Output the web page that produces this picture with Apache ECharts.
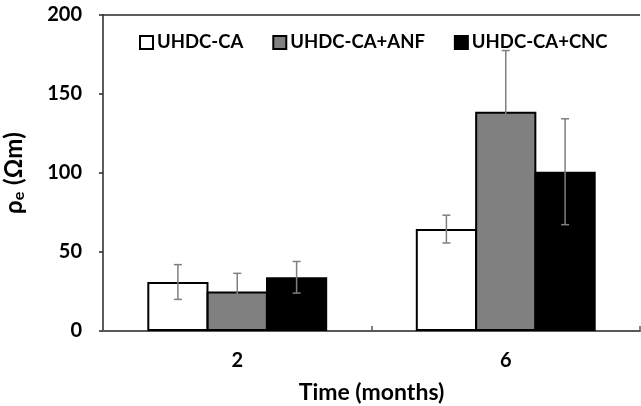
<!DOCTYPE html>
<html>
<head>
<meta charset="utf-8">
<script src="https://cdn.jsdelivr.net/npm/echarts@6/dist/echarts.min.js"></script>
<style>html,body{margin:0;padding:0;background:#fff}#c{width:641px;height:406px}</style>
</head>
<body>
<div id="c"></div>
<script>
const categories = ['2', '6'];
const seriesNames = ['UHDC-CA', 'UHDC-CA+ANF', 'UHDC-CA+CNC'];
const caValues = [31, 64.5];
const anfValues = [25, 138.8];
const cncValues = [34, 100.8];
const caErr = [11, 8.8];
const anfErr = [11.5, 38.7];
const cncErr = [10, 33.5];
const yTicks = [0, 50, 100, 150, 200];

const values = [caValues, anfValues, cncValues];
const errs = [caErr, anfErr, cncErr];
const fills = ['#ffffff', '#808080', '#000000'];
const FONT = 'Lato';
const catGap = 0.33;
const barGap = -0.03;

const chart = echarts.init(document.getElementById('c'));
const series = [];
values.forEach((v, i) => {
  series.push({
    name: seriesNames[i], type: 'bar', data: v,
    barGap: (barGap * 100) + '%', barCategoryGap: (catGap * 100) + '%',
    itemStyle: { color: fills[i], borderColor: '#000', borderWidth: 2 },
    z: 2
  });
});
values.forEach((v, i) => {
  series.push({
    type: 'custom', silent: true, z: 5,
    data: v.map((val, j) => [j, val - errs[i][j], val + errs[i][j]]),
    renderItem: function (params, api) {
      const band = api.size([1, 0])[0];
      const bw = band * (1 - catGap) / (3 + 2 * barGap);
      const off = (i - 1) * bw * (1 + barGap);
      const lo = api.coord([api.value(0), api.value(1)]);
      const hi = api.coord([api.value(0), api.value(2)]);
      const x = lo[0] + off;
      const cap = 4;
      const st = { stroke: '#7f7f7f', lineWidth: 1.5 };
      return { type: 'group', children: [
        { type: 'line', shape: { x1: x, y1: lo[1], x2: x, y2: hi[1] }, style: st },
        { type: 'line', shape: { x1: x - cap, y1: lo[1], x2: x + cap, y2: lo[1] }, style: st },
        { type: 'line', shape: { x1: x - cap, y1: hi[1], x2: x + cap, y2: hi[1] }, style: st }
      ]};
    }
  });
});

chart.setOption({
  animation: false,
  grid: { left: 103, right: 1, top: 15, bottom: 75, containLabel: false, outerBoundsMode: 'none' },
  legend: {
    data: seriesNames, left: 134, top: 28, itemWidth: 13, itemHeight: 13, itemGap: 29,
    icon: 'rect',
    textStyle: { fontFamily: FONT, fontWeight: 'bold', fontSize: 18.5, color: '#000', padding: [0, 0, 0, -1] }
  },
  xAxis: {
    type: 'category', data: categories,
    axisLine: { lineStyle: { color: '#595959', width: 2 } },
    axisTick: { show: true, inside: true, length: 5, alignWithLabel: false, lineStyle: { color: '#595959', width: 1.5 },
      interval: 0 },
    axisLabel: { fontFamily: FONT, fontWeight: 'bold', fontSize: 20, color: '#000', margin: 20 },
    name: 'Time (months)', nameLocation: 'middle', nameGap: 50,
    nameTextStyle: { fontFamily: FONT, fontWeight: 'bold', fontSize: 23, color: '#000' }
  },
  yAxis: {
    type: 'value', min: 0, max: 200, interval: 50,
    axisLine: { show: true, lineStyle: { color: '#262626', width: 1.5 } },
    axisTick: { show: true, length: 4, lineStyle: { color: '#262626', width: 1.5 } },
    splitLine: { show: false },
    axisLabel: { fontFamily: FONT, fontWeight: 'bold', fontSize: 20, color: '#000', margin: 21,
      formatter: v => yTicks.includes(v) ? String(v) : '' },
    name: '{a|ρ}{b|e}{a| (Ωm)}', nameLocation: 'middle', nameGap: 76, nameRotate: 90,
    nameTextStyle: { rich: {
      a: { fontFamily: FONT, fontWeight: 'bold', fontSize: 24, color: '#000' },
      b: { fontFamily: FONT, fontWeight: 'bold', fontSize: 16, color: '#000', verticalAlign: 'bottom', padding: [10, 1, 0, 0] }
    } }
  },
  graphic: [{
    type: 'line', shape: { x1: 103, y1: 15, x2: 640, y2: 15 },
    style: { stroke: '#262626', lineWidth: 1.5 }
  }],
  series: series
});
</script>
</body>
</html>
